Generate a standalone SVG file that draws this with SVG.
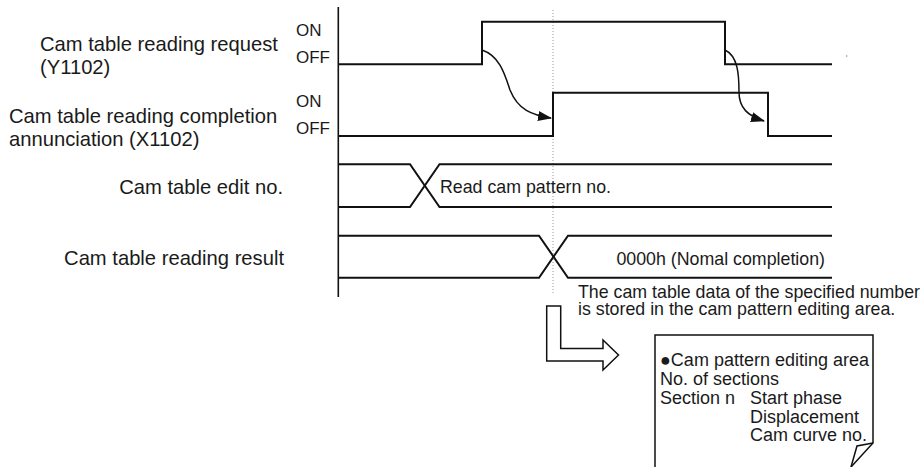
<svg xmlns="http://www.w3.org/2000/svg" width="922" height="467" viewBox="0 0 922 467">
<style>
.lbl{font-family:"Liberation Sans",Arial,sans-serif;font-size:20.2px;fill:#1a1a1a}
.sm{font-family:"Liberation Sans",Arial,sans-serif;font-size:17.8px;fill:#1a1a1a}
.io{font-family:"Liberation Sans",Arial,sans-serif;font-size:17px;fill:#1a1a1a}
.bx{font-family:"Liberation Sans",Arial,sans-serif;font-size:18px;fill:#1a1a1a}
.sig{fill:none;stroke:#111;stroke-width:2}
.thin{fill:none;stroke:#111;stroke-width:1.5}
</style>
<defs>
<marker id="ah" viewBox="0 0 14 10" refX="13" refY="5" markerWidth="14" markerHeight="10" markerUnits="userSpaceOnUse" orient="auto">
<path d="M0,0 L14,5 L0,10 z" fill="#111"/>
</marker>
</defs>
<rect width="922" height="467" fill="#fff"/>
<g id="axis">
<line x1="338.3" y1="7" x2="338.3" y2="297" stroke="#111" stroke-width="1.6"/>
<line x1="553" y1="10" x2="553" y2="295" stroke="#999" stroke-width="1" stroke-dasharray="1,2"/>
<circle cx="846.7" cy="56" r="0.8" fill="#888"/>
</g>
<g id="sig-request">
<text class="lbl" x="40" y="51">Cam table reading request</text>
<text class="lbl" x="40" y="74">(Y1102)</text>
<text class="io" x="296" y="36">ON</text>
<text class="io" x="296" y="63">OFF</text>
<polyline class="sig" points="338,64.3 482,64.3 482,21.7 725,21.7 725,64.3 832,64.3"/>
</g>
<g id="sig-completion">
<text class="lbl" x="9" y="122.7">Cam table reading completion</text>
<text class="lbl" x="9" y="146">annunciation (X1102)</text>
<text class="io" x="296" y="106.7">ON</text>
<text class="io" x="296" y="134">OFF</text>
<polyline class="sig" points="338,136 553,136 553,92.7 768,92.7 768,136 832,136"/>
</g>
<g id="bus-editno">
<text class="lbl" x="283" y="194" text-anchor="end">Cam table edit no.</text>
<polyline class="sig" points="338,164.3 410,164.3 439.5,207 832,207"/>
<polyline class="sig" points="338,207 410,207 439.5,164.3 832,164.3"/>
<text class="sm" x="440" y="193">Read cam pattern no.</text>
</g>
<g id="bus-result">
<text class="lbl" x="284" y="265" text-anchor="end">Cam table reading result</text>
<polyline class="sig" points="338,235.7 539,235.7 568,277.7 832,277.7"/>
<polyline class="sig" points="338,277.7 539,277.7 568,235.7 832,235.7"/>
<text class="sm" x="825" y="265" text-anchor="end">0000h (Nomal completion)</text>
</g>
<g id="note-text">
<text class="sm" x="578" y="298">The cam table data of the specified number</text>
<text class="sm" x="578" y="315">is stored in the cam pattern editing area.</text>
</g>
<g id="edit-area">
<path class="thin" d="M655,467 L655,335 L873,335 L873,443 L851,467"/>
<path class="thin" d="M873,443 L857,446 L851,467"/>
<text class="bx" x="660" y="366">●Cam pattern editing area</text>
<text class="bx" x="660" y="385">No. of sections</text>
<text class="bx" x="660" y="404">Section n</text>
<text class="bx" x="750" y="404">Start phase</text>
<text class="bx" x="750" y="422.5">Displacement</text>
<text class="bx" x="750" y="441">Cam curve no.</text>
</g>
<g id="connectors">
<path class="thin" d="M482,50 C500,56 505,75 510,90 C518,110 532,115 551,118" marker-end="url(#ah)"/>
<path class="thin" d="M725,50 C738,56 739,75 739,92 C739,108 748,116 764,121" marker-end="url(#ah)"/>
<polygon class="thin" points="546.7,306 560.7,306 560.7,348.5 603,348.5 603,340 618.5,355 603,370 603,361 546.7,361"/>
</g>
</svg>
